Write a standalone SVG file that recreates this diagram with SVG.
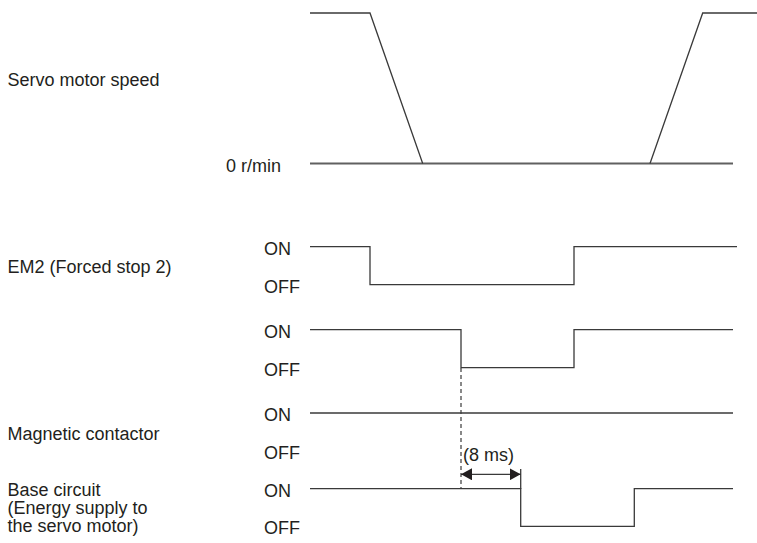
<svg xmlns="http://www.w3.org/2000/svg" width="757" height="543" viewBox="0 0 757 543">
<style>
text{font-family:"Liberation Sans",Arial,sans-serif;font-size:18px;fill:#231f20}
.sig{fill:none;stroke:#3a3a3a;stroke-width:1.3}
.zero{fill:none;stroke:#606060;stroke-width:2}
.dash{fill:none;stroke:#3a3a3a;stroke-width:1.2;stroke-dasharray:4 3}
</style>
<defs>
<marker id="ah" viewBox="0 0 11 12" refX="11" refY="6" markerWidth="11" markerHeight="12" markerUnits="userSpaceOnUse" orient="auto-start-reverse">
<path d="M0,0 L11,6 L0,12 Z" fill="#231f20"/>
</marker>
</defs>
<g id="labels">
<text x="7.5" y="86">Servo motor speed</text>
<text x="226" y="172.3">0 r/min</text>
<text x="7.5" y="273">EM2 (Forced stop 2)</text>
<text x="7.5" y="440">Magnetic contactor</text>
<text x="7.5" y="495.5">Base circuit</text>
<text x="7.5" y="513.5">(Energy supply to</text>
<text x="7.5" y="531.5">the servo motor)</text>
<text x="264" y="255">ON</text>
<text x="264" y="293">OFF</text>
<text x="264" y="338">ON</text>
<text x="264" y="376">OFF</text>
<text x="264" y="421">ON</text>
<text x="264" y="459">OFF</text>
<text x="264" y="496.5">ON</text>
<text x="264" y="534">OFF</text>
</g>
<g id="speed">
<line class="zero" x1="310" y1="163.5" x2="733" y2="163.5"/>
<polyline class="sig" points="310,13 370,13 422.7,163.5"/>
<polyline class="sig" points="650,163.5 702.7,13 757,13"/>
</g>
<g id="em2">
<polyline class="sig" points="310,246.7 370,246.7 370,284.7 574,284.7 574,246.7 737,246.7"/>
</g>
<g id="signal2">
<polyline class="sig" points="310,329.7 461,329.7 461,367.7 574,367.7 574,329.7 733,329.7"/>
</g>
<g id="magnetic-contactor">
<line class="sig" x1="310" y1="413" x2="733" y2="413"/>
</g>
<g id="base-circuit">
<polyline class="sig" points="310,488.7 520.7,488.7 520.7,526.3 634.3,526.3 634.3,488.7 733,488.7"/>
</g>
<g id="connectors">
<line class="dash" x1="461" y1="368" x2="461" y2="488.7"/>
<line class="sig" x1="520.7" y1="469" x2="520.7" y2="489"/>
<line class="sig" x1="461" y1="474.3" x2="520.7" y2="474.3" marker-start="url(#ah)" marker-end="url(#ah)"/>
<text x="463" y="461">(8 ms)</text>
</g>
</svg>
